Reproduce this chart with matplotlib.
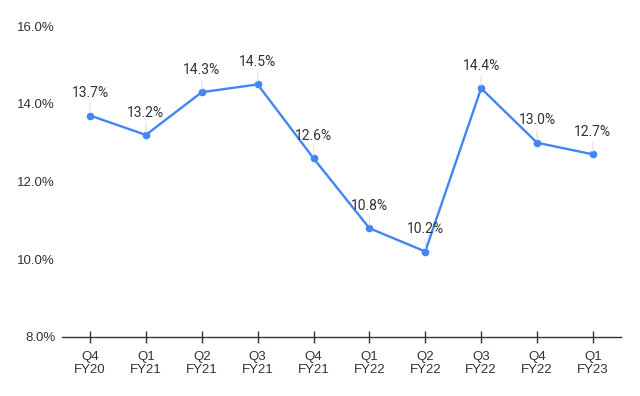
import matplotlib
matplotlib.use('Agg')
import matplotlib.pyplot as plt

# данные
quarters = ['Q4\nFY20', 'Q1\nFY21', 'Q2\nFY21', 'Q3\nFY21', 'Q4\nFY21',
            'Q1\nFY22', 'Q2\nFY22', 'Q3\nFY22', 'Q4\nFY22', 'Q1\nFY23']
values = [13.7, 13.2, 14.3, 14.5, 12.6, 10.8, 10.2, 14.4, 13.0, 12.7]
y_ticks = [8, 10, 12, 14, 16]

plt.rcParams['font.family'] = ['Roboto', 'DejaVu Sans']

fig = plt.figure(figsize=(6.4, 3.96), dpi=100)
ax = fig.add_axes([0.097, 0.149, 0.873, 0.785])

x = list(range(len(values)))
ax.plot(x, values, color='#4285F4', lw=1.7, marker='o', markersize=4.5, zorder=3)

# подписи значений с тонкими выносками
for xi, v in zip(x, values):
    ax.annotate(f'{v:.1f}%', xy=(xi, v), xytext=(0, 11), textcoords='offset points',
                ha='center', va='bottom', fontsize=10, color='#333333',
                arrowprops=dict(arrowstyle='-', color='#e0e0e0', lw=0.8,
                                shrinkA=0, shrinkB=2))

ax.set_xlim(-0.5, len(values) - 0.5)
ax.set_ylim(8, 16)
ax.set_yticks(y_ticks)
ax.set_yticklabels([f'{t:.1f}%' for t in y_ticks], family='Liberation Sans')
ax.set_xticks(x)
ax.set_xticklabels(quarters, family='Liberation Sans')

for s in ['top', 'right', 'left']:
    ax.spines[s].set_visible(False)
ax.spines['bottom'].set_color('#333333')
ax.spines['bottom'].set_linewidth(1)

ax.tick_params(axis='y', length=0, labelsize=9.5, labelcolor='#333333', pad=5)
ax.tick_params(axis='x', direction='inout', length=8, width=1, color='#333333',
               labelsize=9.5, labelcolor='#333333', pad=6)
for lbl in ax.get_xticklabels():
    lbl.set_linespacing(1.15)

fig.savefig('out.png', dpi=100)
